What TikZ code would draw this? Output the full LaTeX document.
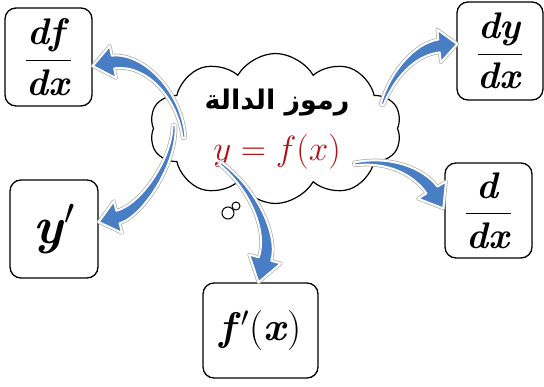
\RequirePackage{fix-cm}
\documentclass[tikz,border=0pt]{standalone}
\usepackage{amsmath}
\usepackage{fontspec}
\usetikzlibrary{shapes.symbols,calc}
\TeXXeTstate=1
\newfontfamily\arabicfont[Script=Arabic]{DejaVu Sans}
\definecolor{arrowblue}{RGB}{74,126,196}
\definecolor{fxred}{RGB}{176,18,24}
\definecolor{halo}{RGB}{170,170,170}
% #1 start, #2 control 1, #3 control 2, #4 head base, #5 tip
\newcommand\taparrow[5]{%
  \path[arrowshape, draw=halo, line width=3.4pt]
    ($(#1)!1.5pt!90:(#2)$) .. controls ($(#2)!3.5pt!90:(#3)$) and ($(#3)!6pt!90:(#5)$) .. ($(#4)!6.5pt!90:(#5)$)
    -- ($(#4)!16.5pt!90:(#5)$) -- (#5) -- ($(#4)!16.5pt!-90:(#5)$) -- ($(#4)!6.5pt!-90:(#5)$)
    .. controls ($(#3)!6pt!-90:(#5)$) and ($(#2)!3.5pt!-90:(#3)$) .. ($(#1)!1.5pt!-90:(#2)$) -- cycle;
  \path[arrowshape, fill=arrowblue, draw=white, line width=2pt]
    ($(#1)!1.5pt!90:(#2)$) .. controls ($(#2)!3.5pt!90:(#3)$) and ($(#3)!6pt!90:(#5)$) .. ($(#4)!6.5pt!90:(#5)$)
    -- ($(#4)!16.5pt!90:(#5)$) -- (#5) -- ($(#4)!16.5pt!-90:(#5)$) -- ($(#4)!6.5pt!-90:(#5)$)
    .. controls ($(#3)!6pt!-90:(#5)$) and ($(#2)!3.5pt!-90:(#3)$) .. ($(#1)!1.5pt!-90:(#2)$) -- cycle;}
\newcommand\bitx[1]{\textbf{\textit{#1}}}
\newcommand\mfrac[2]{\fontsize{37}{44}\selectfont$\displaystyle\frac{\bitx{#1}}{\bitx{#2}}$}
\begin{document}
\begin{tikzpicture}[x=1pt,y=-1pt,
  termbox/.style={draw, line width=1.3pt, rounded corners=11pt, inner sep=0pt},
  arrowshape/.style={line join=round},
  bubble/.style={circle, draw, line width=1pt, inner sep=0pt}]
\useasboundingbox (0,0) rectangle (544,386);
% cloud
\node[cloud, draw, fill=white, line width=1.2pt, cloud puffs=10, cloud puff arc=120, cloud ignores aspect, minimum width=252pt, minimum height=150pt, inner sep=0pt] (cl) at (275.5,128.5) {};
\node[bubble, minimum size=12pt] (b1) at (228,213) {};
\node[bubble, minimum size=8pt] (b2) at (236,206) {};
% texts in cloud
\node (ar) at (277,103) {\arabicfont\bfseries\fontsize{27}{32}\selectfont\beginR رموز الدالة\endR};
\node[text=fxred] (fx) at (277,152) {\fontsize{35}{42}\selectfont$y=f(x)$};
% boxes
\node[termbox, minimum width=87pt, minimum height=98pt] (dfdx) at (48.5,57) {\mfrac{df}{dx}};
\node[termbox, minimum width=88pt, minimum height=98pt] (yp) at (54,229) {\fontsize{52}{60}\selectfont\bitx{y}$'$};
\node[termbox, minimum width=86pt, minimum height=98pt] (dydx) at (500,51) {\mfrac{dy}{dx}};
\node[termbox, minimum width=87pt, minimum height=95pt] (ddx) at (488.5,210.5) {\mfrac{d}{dx}};
\node[termbox, minimum width=115pt, minimum height=95pt] (fpx) at (260.5,330.5) {\fontsize{40}{48}\selectfont\bitx{f}$'$(\bitx{x})};
% arrow coordinates
\coordinate (s1) at (184,138); \coordinate (p1) at (180,95); \coordinate (q1) at (145,58);
\coordinate (h1) at (113,62);  \coordinate (t1) at ($(dfdx.east)+(0,9)$);
\coordinate (s2) at (174,125); \coordinate (p2) at (175,162); \coordinate (q2) at (141,211);
\coordinate (h2) at (118,217); \coordinate (t2) at ($(yp.east)+(0,-7)$);
\coordinate (s3) at (382,105); \coordinate (p3) at (392,75); \coordinate (q3) at (415,49);
\coordinate (h3) at (439,46);  \coordinate (t3) at ($(dydx.west)+(1,-7)$);
\coordinate (s4) at (354,164); \coordinate (p4) at (390,158); \coordinate (q4) at (419,172);
\coordinate (h4) at (432,190); \coordinate (t4) at ($(ddx.west)+(-1,-2)$);
\coordinate (s5) at (220,163); \coordinate (p5) at (255,190); \coordinate (q5) at (273,235);
\coordinate (h5) at (265,259); \coordinate (t5) at ($(fpx.north)+(-2,0)$);
\taparrow{s1}{p1}{q1}{h1}{t1}
\taparrow{s2}{p2}{q2}{h2}{t2}
\taparrow{s3}{p3}{q3}{h3}{t3}
\taparrow{s4}{p4}{q4}{h4}{t4}
\taparrow{s5}{p5}{q5}{h5}{t5}
\end{tikzpicture}
\end{document}
